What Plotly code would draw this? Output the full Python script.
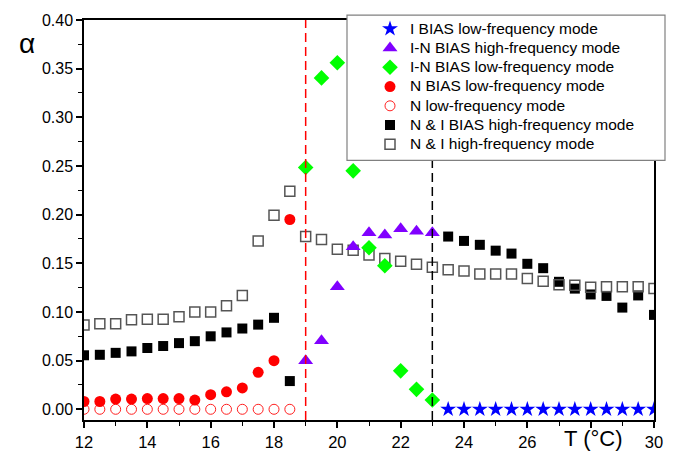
import plotly.graph_objects as go

# ---------------- data ----------------
x_low = [12, 12.5, 13, 13.5, 14, 14.5, 15, 15.5, 16, 16.5, 17, 17.5, 18, 18.5]

n_low_y = [0, 0, 0, 0, 0, 0, 0, 0, 0, 0, 0, 0, 0, 0]
n_bias_low_y = [0.008, 0.008, 0.0105, 0.0105, 0.011, 0.011, 0.011, 0.0095,
                0.015, 0.018, 0.022, 0.038, 0.050, 0.195]

ni_bias_high_x = [12, 12.5, 13, 13.5, 14, 14.5, 15, 15.5, 16, 16.5, 17, 17.5, 18, 18.5,
                  23.5, 24, 24.5, 25, 25.5, 26, 26.5, 27, 27.5, 28, 28.5, 29, 29.5, 30]
ni_bias_high_y = [0.0555, 0.056, 0.058, 0.0595, 0.063, 0.065, 0.068, 0.070,
                  0.075, 0.079, 0.083, 0.087, 0.094, 0.029,
                  0.1775, 0.173, 0.169, 0.163, 0.160, 0.1495, 0.145, 0.131,
                  0.124, 0.118, 0.1165, 0.1045, 0.117, 0.097]

ni_high_x = [12, 12.5, 13, 13.5, 14, 14.5, 15, 15.5, 16, 16.5, 17, 17.5, 18, 18.5,
             19, 19.5, 20, 20.5, 21, 21.5, 22, 22.5, 23, 23.5, 24, 24.5, 25, 25.5,
             26, 26.5, 27, 27.5, 28, 28.5, 29, 29.5, 30]
ni_high_y = [0.0865, 0.088, 0.088, 0.092, 0.0925, 0.0925, 0.095, 0.100, 0.100,
             0.1065, 0.117, 0.173, 0.1995, 0.224,
             0.1775, 0.1745, 0.1645, 0.1635, 0.1585, 0.155, 0.152, 0.149, 0.146,
             0.1435, 0.142, 0.139, 0.139, 0.139, 0.1345, 0.1315, 0.128, 0.1275,
             0.1255, 0.126, 0.126, 0.126, 0.124]

in_bias_low_x = [19, 19.5, 20, 20.5, 21, 21.5, 22, 22.5, 23]
in_bias_low_y = [0.2485, 0.3405, 0.356, 0.245, 0.166, 0.1475, 0.0395, 0.0205, 0.0095]

in_bias_high_x = [19, 19.5, 20, 20.5, 21, 21.5, 22, 22.5, 23]
in_bias_high_y = [0.050, 0.0705, 0.126, 0.167, 0.1815, 0.179, 0.1855, 0.183, 0.1815]

i_bias_low_x = [23.5, 24, 24.5, 25, 25.5, 26, 26.5, 27, 27.5, 28, 28.5, 29, 29.5, 30]
i_bias_low_y = [0, 0, 0, 0, 0, 0, 0, 0, 0, 0, 0, 0, 0, 0]

names = ["I BIAS low-frequency mode", "I-N BIAS high-frequency mode",
         "I-N BIAS low-frequency mode", "N BIAS low-frequency mode",
         "N low-frequency mode", "N & I BIAS high-frequency mode",
         "N & I high-frequency mode"]

x_tickvals = [12, 14, 16, 18, 20, 22, 24, 26, 28, 30]
x_ticktext = ["12", "14", "16", "18", "20", "22", "24", "26", "", "30"]
y_tickvals = [0, 0.05, 0.10, 0.15, 0.20, 0.25, 0.30, 0.35, 0.40]
y_ticktext = ["0.00", "0.05", "0.10", "0.15", "0.20", "0.25", "0.30", "0.35", "0.40"]

red_line_x = 19
black_line_x = 23

FONT = "Liberation Sans"
LEG_FS = 15.5


def lab(s):
    return '<span style="font-size:%spx">%s</span>' % (LEG_FS, s.replace("&", "&amp;"))


fig = go.Figure()

# drawing order (legend order via legendrank)
fig.add_trace(go.Scatter(x=x_low, y=n_low_y, mode="markers", name=lab(names[4]), legendrank=5,
                         marker=dict(symbol="circle-open", size=10, color="#FF2020",
                                     line=dict(width=1))))
fig.add_trace(go.Scatter(x=x_low, y=n_bias_low_y, mode="markers", name=lab(names[3]), legendrank=4,
                         marker=dict(symbol="circle", size=11, color="#FF0000")))
fig.add_trace(go.Scatter(x=ni_bias_high_x, y=ni_bias_high_y, mode="markers", name=lab(names[5]),
                         legendrank=6, marker=dict(symbol="square", size=10, color="#000000")))
fig.add_trace(go.Scatter(x=ni_high_x, y=ni_high_y, mode="markers", name=lab(names[6]), legendrank=7,
                         marker=dict(symbol="square-open", size=10, color="#555555",
                                     line=dict(width=1.5))))
fig.add_trace(go.Scatter(x=in_bias_high_x, y=in_bias_high_y, mode="markers", name=lab(names[1]),
                         legendrank=2, marker=dict(symbol="triangle-up", size=13, color="#8000FF")))
fig.add_trace(go.Scatter(x=in_bias_low_x, y=in_bias_low_y, mode="markers", name=lab(names[2]),
                         legendrank=3, marker=dict(symbol="diamond", size=12, color="#00FF00")))
fig.add_trace(go.Scatter(x=i_bias_low_x, y=i_bias_low_y, mode="markers", name=lab(names[0]),
                         legendrank=1, marker=dict(symbol="star", size=12, color="#0000FF",
                                                   line=dict(width=0))))

# vertical dashed lines
fig.add_shape(type="line", xref="x", yref="paper", x0=red_line_x, x1=red_line_x, y0=0, y1=1,
              line=dict(color="#FF0000", width=1.5, dash="9px,5px"), layer="above")
fig.add_shape(type="line", xref="x", yref="paper", x0=black_line_x, x1=black_line_x, y0=0, y1=1,
              line=dict(color="#000000", width=1.5, dash="9px,5px"), layer="above")

L, R, T, B = 84, 24, 16, 34
W, H = 678, 463
pw, ph = W - L - R, H - T - B


def px2x(p):
    return (p - L) / pw


def py2y(p):
    return (H - B - p) / ph


# legend box (white, gray border)
fig.add_shape(type="rect", xref="paper", yref="paper",
              x0=px2x(347), x1=px2x(665), y0=py2y(161), y1=py2y(11),
              fillcolor="white", line=dict(color="#808080", width=1.2), layer="above")

fig.update_layout(
    width=W, height=H,
    margin=dict(l=L, r=R, t=T, b=B),
    plot_bgcolor="white", paper_bgcolor="white",
    showlegend=True,
    legend=dict(x=px2x(370), y=py2y(10), xanchor="left", yanchor="top",
                bgcolor="rgba(0,0,0,0)", borderwidth=0,
                font=dict(family=FONT, size=12.5, color="#000000"),
                itemwidth=30, tracegroupgap=0),
    font=dict(family=FONT, color="#000000"),
)

fig.update_xaxes(range=[12, 30], tickvals=x_tickvals, ticktext=x_ticktext,
                 showgrid=False, zeroline=False, showline=True, linecolor="black",
                 linewidth=1.5, mirror=True, ticks="outside", ticklen=6, tickwidth=1.5,
                 tickcolor="black", tickfont=dict(family=FONT, size=16.5, color="black"),
                 minor=dict(dtick=1, ticks="outside", ticklen=4, tickwidth=1.2, tickcolor="black"))
fig.update_yaxes(range=[-0.011, 0.40], tickvals=y_tickvals, ticktext=y_ticktext,
                 showgrid=False, zeroline=False, showline=True, linecolor="black",
                 linewidth=1.5, mirror=True, ticks="outside", ticklen=6, tickwidth=1.5,
                 tickcolor="black", tickfont=dict(family=FONT, size=16, color="black"),
                 minor=dict(dtick=0.025, tick0=0, ticks="outside", ticklen=4, tickwidth=1.2,
                            tickcolor="black"))

fig.add_annotation(text="T (\u00b0C)", x=28.1, y=py2y(448), xref="x", yref="paper",
                   showarrow=False, font=dict(family=FONT, size=22, color="black"),
                   xanchor="center", yanchor="middle")
fig.add_annotation(text="\u03b1", x=px2x(27), y=py2y(40), xref="paper", yref="paper",
                   showarrow=False, font=dict(family=FONT, size=28, color="black"),
                   xanchor="center", yanchor="middle")

fig.write_html("out.html")
